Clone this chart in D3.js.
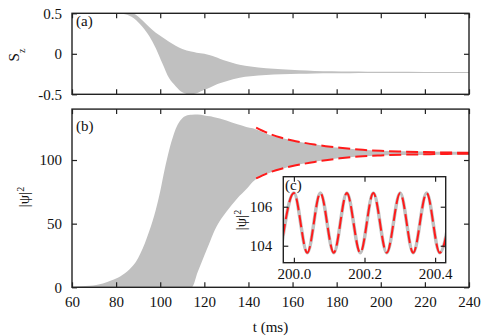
<!DOCTYPE html>
<html>
<head>
<meta charset="utf-8">
<script src="https://cdn.jsdelivr.net/npm/d3@7"></script>
<style>
  body { margin: 0; background: #fff; }
  svg text { font-family: "Liberation Serif", "Times New Roman", Times, "DejaVu Serif", "Noto Serif", serif; fill: #111; }
  .frame { fill: none; stroke: #222; stroke-width: 1.4; }
  .tick line { stroke: #222; stroke-width: 1.2; }
  .tick text { font-size: 15px; }
</style>
</head>
<body>
<div id="container"></div>
<script>
// panel (a): S_z band (upper / lower envelope of fast oscillation)
var tA = [60, 74, 82, 86, 88, 90, 92, 95, 98, 101, 104, 107, 110, 112, 114, 116.5, 120, 122.6, 125, 127,
  130, 133, 136, 141, 148, 155, 163, 170, 178, 186, 194, 205, 220, 240];
var szUpper = [0.5, 0.5, 0.5, 0.5, 0.495, 0.46, 0.41, 0.33, 0.26, 0.205, 0.15, 0.1, 0.06, 0.042, 0.028, 0.014, 0, -0.018, -0.04, -0.06,
  -0.09, -0.113, -0.135, -0.158, -0.178, -0.192, -0.204, -0.211, -0.216, -0.22, -0.222, -0.223, -0.224, -0.224];
var szLower = [0.5, 0.5, 0.497, 0.47, 0.44, 0.39, 0.33, 0.22, 0.07, -0.12, -0.3, -0.4, -0.475, -0.495, -0.5, -0.487, -0.445, -0.415, -0.385, -0.365,
  -0.34, -0.315, -0.295, -0.278, -0.262, -0.252, -0.246, -0.242, -0.24, -0.239, -0.238, -0.238, -0.238, -0.238];

// panel (b): |psi|^2 band
var tB = [60, 68, 74, 78, 82, 86, 89, 91, 93, 95, 98, 100, 102, 104, 106, 108, 110, 113, 114.3, 117,
  120, 122.6, 124, 127, 130, 135, 139, 142, 147, 150, 154, 160, 164, 169, 175, 181.5, 190, 200, 210, 220, 230, 240];
var psiUpper = [0.5, 1.2, 3, 5.5, 8.7, 14, 20, 26.5, 34.5, 44, 61, 75.5, 92.5, 107.5, 119.5, 128, 132.8, 135.3, 135.5, 135.7,
  135, 134.3, 133.8, 132.6, 131, 128, 126, 124.9, 121.5, 119.5, 117.8, 115.3, 114, 112.5, 110.9, 109.6, 108.3, 107.2, 106.8, 106.6, 106.4, 106.3];
var psiLower = [0, 0, 0, 0, 0, 0, 0, 0, 0, 0, 0, 0, 0, 0, 0, 0, 0, 0, 0, 12,
  25, 36, 42, 52, 59.4, 70, 77, 83, 88, 90.2, 92.3, 95.3, 96.8, 98.4, 100, 101.6, 102.8, 103.6, 103.9, 104, 104.1, 104.1];

// red dashed envelope fits
var tFit = [143.5, 150, 155, 160, 165, 170, 175, 181.5, 190, 200, 210, 220, 230, 240];
var fitUpper = [125.5, 120.3, 117.5, 115.3, 113.6, 112.1, 110.9, 109.6, 108.2, 107.2, 106.6, 106.2, 105.9, 105.7];
var fitLower = [85.5, 90.5, 93.2, 95.3, 97, 98.5, 99.8, 101.3, 102.7, 103.6, 104.2, 104.5, 104.8, 104.9];

// inset (c): extrema of the oscillation near t = 200 ms
var tInset = [199.962, 200.0, 200.038, 200.075, 200.113, 200.150, 200.188, 200.225, 200.263, 200.301, 200.338, 200.376, 200.413, 200.451];
var psiInset = [103.64, 106.7, 103.64, 106.7, 103.64, 106.7, 103.64, 106.7, 103.64, 106.7, 103.64, 106.7, 103.64, 106.7];

var xTicks = [60, 80, 100, 120, 140, 160, 180, 200, 220, 240];
var szTicks = [-0.5, 0, 0.5];
var psiTicks = [0, 50, 100];
var insetXTicks = [200.0, 200.2, 200.4];
var insetYTicks = [104, 106];

var W = 485, H = 336;
var svg = d3.select("#container").append("svg").attr("width", W).attr("height", H);

var left = 72, right = 469;
var x = d3.scaleLinear().domain([60, 240]).range([left, right]);
var yA = d3.scaleLinear().domain([-0.5, 0.5]).range([94.3, 13.3]);
var yB = d3.scaleLinear().domain([0, 140]).range([287.3, 109.1]);

var gray = "#c0c0c0";
var red = "#ff1a1a";

function frame(g, xs, ys, tx, ty, showX, fmtX, fmtY, pad) {
  var x0 = xs.range()[0], x1 = xs.range()[1];
  var y0 = ys.range()[0], y1 = ys.range()[1];
  var bottom = g.append("g").attr("transform", "translate(0," + y0 + ")")
    .call(d3.axisBottom(xs).tickValues(tx).tickSize(-5).tickPadding(pad.x).tickFormat(showX ? fmtX : ""));
  var top = g.append("g").attr("transform", "translate(0," + y1 + ")")
    .call(d3.axisTop(xs).tickValues(tx).tickSize(-5).tickFormat(""));
  var l = g.append("g").attr("transform", "translate(" + x0 + ",0)")
    .call(d3.axisLeft(ys).tickValues(ty).tickSize(-5).tickPadding(pad.y).tickFormat(fmtY));
  var r = g.append("g").attr("transform", "translate(" + x1 + ",0)")
    .call(d3.axisRight(ys).tickValues(ty).tickSize(-5).tickFormat(""));
  [bottom, top, l, r].forEach(function (a) {
    a.attr("font-family", null);
    a.select(".domain").remove();
    a.selectAll(".tick text").attr("fill", "#111");
  });
  g.append("rect").attr("class", "frame")
    .attr("x", x0).attr("y", y1).attr("width", x1 - x0).attr("height", y0 - y1);
}

// panel (a)
var area = d3.area().curve(d3.curveMonotoneX);
svg.append("path")
  .datum(tA.map(function (t, i) { return [t, szUpper[i], szLower[i]]; }))
  .attr("fill", gray)
  .attr("d", area.x(function (d) { return x(d[0]); })
    .y0(function (d) { return yA(d[2]); })
    .y1(function (d) { return yA(d[1]); }));

frame(svg.append("g"), x, yA, xTicks, szTicks, false, null,
  function (d) { return String(d); }, { x: 9, y: 10 });

// panel (b)
var areaB = d3.area().curve(d3.curveMonotoneX)
  .x(function (d) { return x(d[0]); })
  .y0(function (d) { return yB(d[2]); })
  .y1(function (d) { return yB(d[1]); });
svg.append("path")
  .datum(tB.map(function (t, i) { return [t, psiUpper[i], psiLower[i]]; }))
  .attr("fill", gray)
  .attr("d", areaB);

var lineB = d3.line().curve(d3.curveMonotoneX)
  .x(function (d) { return x(d[0]); })
  .y(function (d) { return yB(d[1]); });
[fitUpper, fitLower].forEach(function (vals) {
  svg.append("path")
    .datum(tFit.map(function (t, i) { return [t, vals[i]]; }))
    .attr("fill", "none")
    .attr("stroke", red)
    .attr("stroke-width", 2)
    .attr("stroke-dasharray", "12,5")
    .attr("d", lineB);
});

frame(svg.append("g"), x, yB, xTicks, psiTicks, true,
  function (d) { return String(d); },
  function (d) { return String(d); }, { x: 9, y: 10 });

// inset (c)
var xi = d3.scaleLinear().domain([199.97, 200.43]).range([283.3, 445.7]);
var yi = d3.scaleLinear().domain([103.13, 107.54]).range([262.7, 176.7]);

svg.append("rect")
  .attr("x", 283.3).attr("y", 176.7).attr("width", 445.7 - 283.3).attr("height", 262.7 - 176.7)
  .attr("fill", "#fff");
svg.append("clipPath").attr("id", "clipc").append("rect")
  .attr("x", 283.3).attr("y", 176.7).attr("width", 445.7 - 283.3).attr("height", 262.7 - 176.7);

var lineI = d3.line().curve(d3.curveMonotoneX)
  .x(function (d) { return xi(d[0]); })
  .y(function (d) { return yi(d[1]); });
var inset = tInset.map(function (t, i) { return [t, psiInset[i]]; });
var gi = svg.append("g").attr("clip-path", "url(#clipc)");
gi.append("path").datum(inset)
  .attr("fill", "none").attr("stroke", gray).attr("stroke-width", 3.5)
  .attr("d", lineI);
gi.append("path").datum(inset)
  .attr("fill", "none").attr("stroke", red).attr("stroke-width", 2)
  .attr("stroke-dasharray", "12,5")
  .attr("d", lineI);

frame(svg.append("g"), xi, yi, insetXTicks, insetYTicks, true,
  d3.format(".1f"), function (d) { return String(d); }, { x: 6, y: 11 });

// labels
svg.append("text").attr("x", 76).attr("y", 26).style("font-size", "15px").text("(a)");
svg.append("text").attr("x", 76).attr("y", 131).style("font-size", "15px").text("(b)");
svg.append("text").attr("x", 285).attr("y", 190).style("font-size", "15px").text("(c)");

svg.append("text")
  .attr("x", 270.5).attr("y", 332)
  .attr("text-anchor", "middle")
  .style("font-size", "15px")
  .text("t (ms)");

var sz = svg.append("text")
  .attr("transform", "translate(19,55) rotate(-90)")
  .attr("text-anchor", "middle")
  .style("font-size", "15px");
sz.append("tspan").text("S");
sz.append("tspan").attr("baseline-shift", "sub").style("font-size", "10px").text("z");

function psiLabel(tx, ty) {
  var t = svg.append("text")
    .attr("transform", "translate(" + tx + "," + ty + ") rotate(-90)")
    .attr("text-anchor", "middle")
    .style("font-size", "15px");
  t.append("tspan").text("|\u03c8|");
  t.append("tspan").attr("baseline-shift", "super").style("font-size", "10px").text("2");
}
psiLabel(29, 197);
psiLabel(246, 220);
</script>
</body>
</html>
